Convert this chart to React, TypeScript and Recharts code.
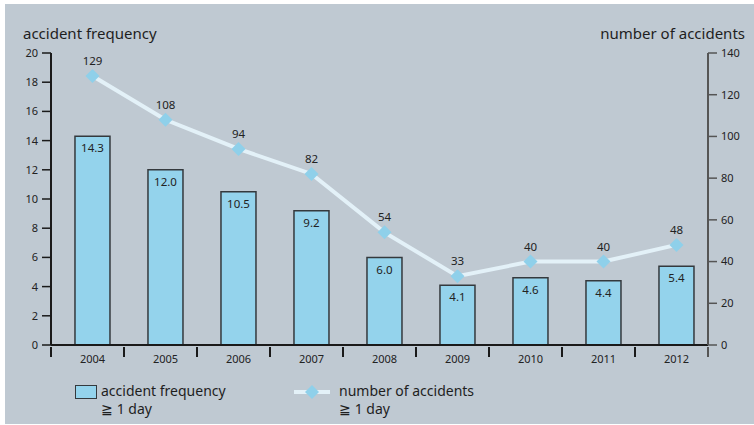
import React from "react";
import {
  ComposedChart,
  Bar,
  Line,
  XAxis,
  YAxis,
  LabelList,
} from "recharts";

const years = ["2004", "2005", "2006", "2007", "2008", "2009", "2010", "2011", "2012"];
const frequency = [14.3, 12.0, 10.5, 9.2, 6.0, 4.1, 4.6, 4.4, 5.4];
const accidents = [129, 108, 94, 82, 54, 33, 40, 40, 48];
const leftTicks = [0, 2, 4, 6, 8, 10, 12, 14, 16, 18, 20];
const rightTicks = [0, 20, 40, 60, 80, 100, 120, 140];

const data = years.map((y, i) => ({ year: y, freq: frequency[i], acc: accidents[i] }));

const FONT = "'Noto Sans', sans-serif";
const BAR_FILL = "#94d3ec";
const BAR_STROKE = "#34393d";
const LINE_COLOR = "#e3f1f8";
const DOT_COLOR = "#8fd0ea";
const BG = "#bfc9d2";

const W = 754;
const H = 425;
const PLOT_LEFT = 51;
const PLOT_RIGHT = 708;
const SHIFT = 5; // bars sit a little right of the tick band
const BAND = (PLOT_RIGHT - PLOT_LEFT) / years.length;

const XTick = (props: any) => {
  const { x, y, payload, index } = props;
  const left = x - BAND / 2 - SHIFT;
  return (
    <g>
      <line x1={left} x2={left} y1={y} y2={y + 10} stroke="#1a1a1a" strokeWidth={2} />
      {index === years.length - 1 && (
        <line x1={left + BAND} x2={left + BAND} y1={y} y2={y + 10} stroke="#555" strokeWidth={2} />
      )}
      <text x={x} y={y + 16} textAnchor="middle" fontSize={11} fill="#222" fontFamily={FONT}>
        {payload.value}
      </text>
    </g>
  );
};

const Diamond = (props: any) => {
  const { cx, cy } = props;
  if (cx == null || cy == null) return null;
  const r = 7;
  return (
    <polygon
      points={`${cx},${cy - r} ${cx + r},${cy} ${cx},${cy + r} ${cx - r},${cy}`}
      fill={DOT_COLOR}
    />
  );
};

const legendText: React.CSSProperties = {
  position: "absolute",
  fontSize: 14,
  lineHeight: "16px",
  whiteSpace: "nowrap",
};

const ChartLegend = () => (
  <div style={{ position: "absolute", left: 0, top: 383, width: W, height: 40, fontFamily: FONT, color: "#1e1e1e" }}>
    <div style={{ position: "absolute", left: 75, top: 2, width: 20, height: 12, background: BAR_FILL, border: `1.5px solid ${BAR_STROKE}` }} />
    <div style={{ ...legendText, left: 101, top: 0 }}>accident frequency</div>
    <div style={{ ...legendText, left: 101, top: 18 }}>≧ 1 day</div>
    <svg style={{ position: "absolute", left: 292, top: -1 }} width={40} height={20}>
      <line x1={2} x2={38} y1={10} y2={10} stroke={LINE_COLOR} strokeWidth={4} />
      <polygon points="20,3 27,10 20,17 13,10" fill={DOT_COLOR} />
    </svg>
    <div style={{ ...legendText, left: 339, top: 0 }}>number of accidents</div>
    <div style={{ ...legendText, left: 339, top: 18 }}>≧ 1 day</div>
  </div>
);

export default function App() {
  return (
    <div style={{ position: "fixed", left: 0, top: 0, width: W, height: H, background: "#fff" }}>
      <div style={{ position: "absolute", left: 5, top: 4, width: W - 5, height: H - 5, background: BG }} />
      <div style={{ position: "absolute", left: 23, top: 23, fontFamily: FONT, fontSize: 15, color: "#1e1e1e" }}>
        accident frequency
      </div>
      <div style={{ position: "absolute", right: 9, top: 23, fontFamily: FONT, fontSize: 15, color: "#1e1e1e" }}>
        number of accidents
      </div>
      <div style={{ position: "absolute", left: 0, top: 0 }}>
        <ComposedChart
          width={W}
          height={H}
          data={data}
          margin={{ top: 53, left: PLOT_LEFT - 40, right: W - PLOT_RIGHT - 40, bottom: 50 }}
          barCategoryGap="26%"
        >
          <XAxis
            dataKey="year"
            xAxisId="x"
            height={30}
            padding={{ left: SHIFT, right: -SHIFT }}
            tickLine={false}
            tickSize={0}
            tick={<XTick />}
            axisLine={{ stroke: "#1a1a1a", strokeWidth: 2 }}
            interval={0}
          />
          <YAxis
            yAxisId="left"
            width={40}
            domain={[0, 20]}
            ticks={leftTicks}
            tickSize={9}
            tickMargin={4}
            interval={0}
            axisLine={{ stroke: "#1a1a1a", strokeWidth: 2 }}
            tickLine={{ stroke: "#1a1a1a", strokeWidth: 1.5 }}
            tick={{ fontSize: 11, fill: "#222", fontFamily: FONT }}
          />
          <YAxis
            yAxisId="right"
            orientation="right"
            width={40}
            domain={[0, 140]}
            ticks={rightTicks}
            tickSize={9}
            tickMargin={4}
            interval={0}
            axisLine={{ stroke: "#555", strokeWidth: 2 }}
            tickLine={{ stroke: "#555", strokeWidth: 1.5 }}
            tick={{ fontSize: 11, fill: "#222", fontFamily: FONT }}
          />
          <Bar
            dataKey="freq"
            xAxisId="x"
            yAxisId="left"
            fill={BAR_FILL}
            stroke={BAR_STROKE}
            strokeWidth={1.5}
            isAnimationActive={false}
          >
            <LabelList
              dataKey="freq"
              position="insideTop"
              offset={8}
              formatter={(v: any) => Number(v).toFixed(1)}
              style={{ fontSize: 11.5, fill: "#222", fontFamily: FONT }}
            />
          </Bar>
          <Line
            dataKey="acc"
            xAxisId="x"
            yAxisId="right"
            stroke={LINE_COLOR}
            strokeWidth={4}
            dot={<Diamond />}
            activeDot={false}
            isAnimationActive={false}
          >
            <LabelList
              dataKey="acc"
              position="top"
              offset={11}
              style={{ fontSize: 11.5, fill: "#222", fontFamily: FONT }}
            />
          </Line>
        </ComposedChart>
      </div>
      <ChartLegend />
    </div>
  );
}
